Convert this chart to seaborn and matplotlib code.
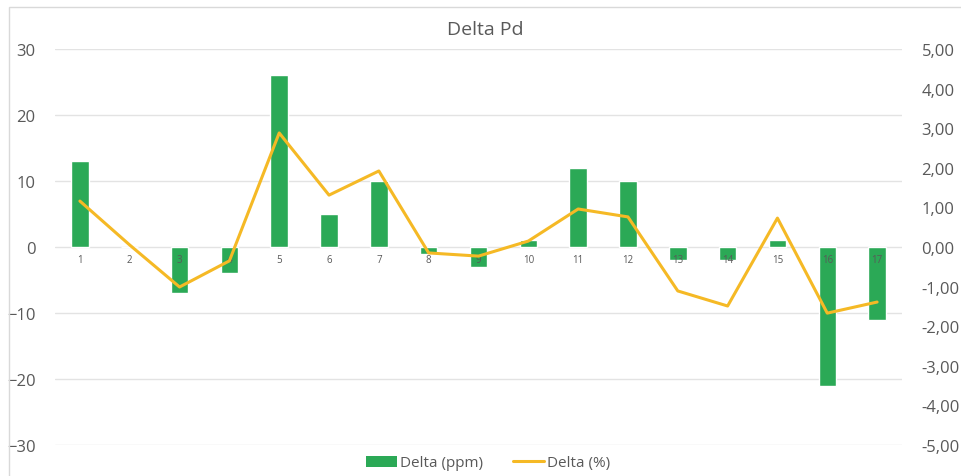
import matplotlib
matplotlib.use("Agg")
import matplotlib.pyplot as plt
import seaborn as sns
import pandas as pd
from matplotlib.patches import Rectangle, Patch
from matplotlib.lines import Line2D
from matplotlib.ticker import FuncFormatter

samples = [str(i) for i in range(1, 18)]
delta_ppm = [13, 0, -7, -4, 26, 5, 10, -1, -3, 1, 12, 10, -2, -2, 1, -21, -11]
delta_pct = [1.16, 0.05, -1.01, -0.35, 2.88, 1.31, 1.92, -0.15, -0.23, 0.15,
             0.96, 0.76, -1.11, -1.49, 0.73, -1.67, -1.39]

GREEN = "#2BA956"
ORANGE = "#F5B925"
TEXT = "#595959"
GRID = "#E3E3E3"

sns.set_theme(style="white")
plt.rcParams["font.family"] = ["Open Sans", "DejaVu Sans"]

df = pd.DataFrame({"sample": samples, "ppm": delta_ppm, "pct": delta_pct,
                   "pos": range(len(samples))})

fig = plt.figure(figsize=(9.61, 4.77), dpi=100)
ax = fig.add_axes([55 / 961, 31 / 477, 847 / 961, 396 / 477])

# chart frame
fig.patches.append(Rectangle((9 / 961, -0.05), 1.2, (477 - 8) / 477 + 0.05,
                             transform=fig.transFigure, fill=False,
                             edgecolor="#D9D9D9", linewidth=1.0, zorder=0))

sns.barplot(data=df, x="sample", y="ppm", color=GREEN, width=0.35,
            saturation=1, ax=ax, zorder=3)
ax.set_ylim(-30, 30)
ax.set_yticks(range(-30, 31, 10))
ax.set_xlim(-0.5, len(samples) - 0.5)
ax.grid(axis="y", color=GRID, linewidth=1.0, zorder=0)
ax.set_axisbelow(True)
# category labels sit on the zero line, drawn over the bars
ax.xaxis.set_zorder(5)
for s in ["top", "right", "left"]:
    ax.spines[s].set_visible(False)
ax.spines["bottom"].set_position(("data", 0))
ax.spines["bottom"].set_visible(False)
ax.tick_params(axis="x", length=0, labelsize=7, labelcolor=TEXT, pad=5)
ax.tick_params(axis="y", length=0, labelsize=12, labelcolor=TEXT, pad=14)
ax.set_xlabel("")
ax.set_ylabel("")

ax2 = ax.twinx()
sns.lineplot(data=df, x="pos", y="pct", color=ORANGE, linewidth=2.2, ax=ax2,
             zorder=4)
ax2.set_ylim(-5, 5)
ax2.set_yticks(range(-5, 6, 1))
ax2.yaxis.set_major_formatter(FuncFormatter(lambda v, _: f"{v:.2f}".replace(".", ",")))
ax2.set_xlim(-0.5, len(samples) - 0.5)
for s in ax2.spines.values():
    s.set_visible(False)
ax2.tick_params(axis="y", length=0, labelsize=12, labelcolor=TEXT, pad=14)
ax2.set_xlabel("")
ax2.set_ylabel("")
ax2.grid(False)

fig.text(485 / 961, 1 - 30 / 477, "Delta Pd", ha="center", va="center",
         fontsize=14, color=TEXT)

handles = [Patch(facecolor=GREEN, edgecolor="none"),
           Line2D([0], [0], color=ORANGE, linewidth=2.2)]
fig.legend(handles, ["Delta (ppm)", "Delta (%)"], loc="center",
           bbox_to_anchor=(488 / 961, 1 - 464 / 477), ncol=2, frameon=False,
           fontsize=11, labelcolor=TEXT, handlelength=2.0, handletextpad=0.2,
           columnspacing=2.0)

fig.savefig("out.png", dpi=100)
